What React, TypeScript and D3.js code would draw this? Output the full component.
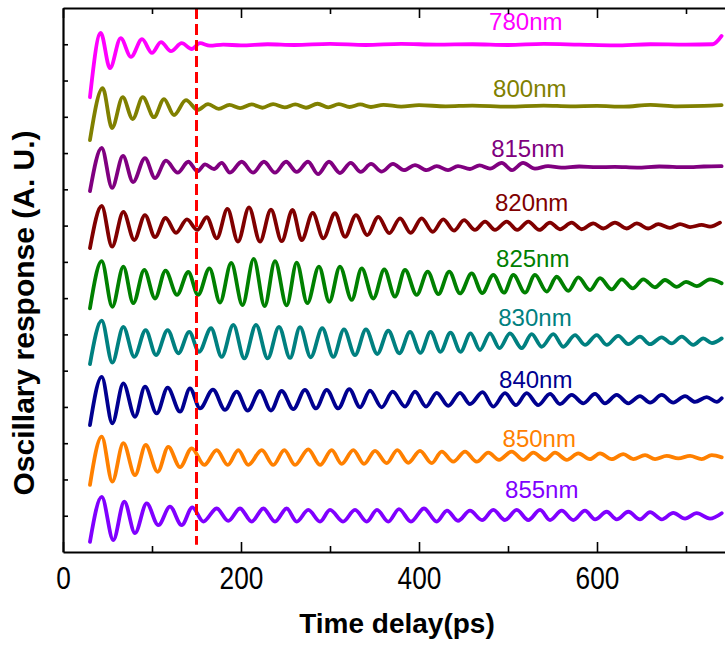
import React, { useRef, useEffect } from "react";
import * as d3 from "d3";

// turning points of each trace: [time delay (ps), response (A. U.)]
const s780 = [
  [30.3, 12.54], [42.4, 14.31], [52.8, 13.34], [64.8, 14.17], [76.4, 13.65], [88.8, 14.14],
  [100, 13.76], [110.1, 14.06], [121.3, 13.81], [133.4, 14.03], [144.6, 13.87], [153.9, 14.03],
  [165, 13.96], [180, 13.99], [200, 13.97], [230, 14.0], [260, 13.98], [300, 14.01], [340, 13.98],
  [380, 14.01], [420, 13.99], [460, 14.0], [500, 13.98], [540, 14.01], [580, 13.99], [620, 13.97],
  [660, 14.0], [700, 13.99], [730, 14.0], [740, 14.23],
];
const s800 = [
  [30.3, 11.36], [44.6, 12.79], [55.1, 11.69], [67.1, 12.54], [78.3, 11.94], [89.6, 12.54],
  [102.2, 11.99], [113.5, 12.49], [124.7, 12.05], [138.2, 12.46], [151.3, 12.19], [163, 12.35],
  [175, 12.22], [187, 12.33], [199, 12.24], [212, 12.34], [224, 12.25], [236, 12.35], [249, 12.26],
  [261, 12.34], [273, 12.25], [286, 12.36], [298, 12.26], [310, 12.35], [322, 12.27], [334, 12.34],
  [346, 12.27], [360, 12.33], [380, 12.28], [400, 12.32], [430, 12.29], [460, 12.31], [500, 12.28],
  [540, 12.31], [570, 12.29], [600, 12.3], [630, 12.28], [660, 12.33], [690, 12.29], [720, 12.3],
  [740, 12.32],
];
const s815 = [
  [30.3, 9.95], [43.5, 11.14], [55.1, 10.04], [67.4, 10.92], [78.7, 10.2], [92.1, 10.86],
  [103.4, 10.31], [115.7, 10.79], [128.9, 10.46], [140.8, 10.76], [151.1, 10.5], [159.6, 10.69],
  [169.7, 10.56], [178.3, 10.73], [187.6, 10.46], [200.8, 10.76], [213.5, 10.46], [225.8, 10.76],
  [238.2, 10.46], [250.6, 10.76], [262.6, 10.48], [275.3, 10.76], [286.5, 10.42], [298.9, 10.76],
  [311.2, 10.45], [323.3, 10.73], [334.5, 10.48], [346.1, 10.7], [358.1, 10.49], [370.8, 10.7],
  [383.1, 10.53], [395.5, 10.67], [408.6, 10.53], [419.9, 10.64], [432.6, 10.53], [443.8, 10.64],
  [457.3, 10.56], [468, 10.66], [479.8, 10.57], [492.9, 10.73], [504.5, 10.53], [516.9, 10.73],
  [530.3, 10.57], [545, 10.64], [560, 10.6], [580, 10.63], [600, 10.61], [620, 10.62], [645, 10.6],
  [670, 10.63], [700, 10.61], [720, 10.63], [740, 10.64],
];
const s820 = [
  [30.3, 8.38], [43.5, 9.54], [55.1, 8.42], [67.8, 9.38], [80.1, 8.6], [92.1, 9.29], [103.4, 8.68],
  [115.2, 9.21], [127, 8.8], [139.3, 9.17], [150.8, 8.88], [161.5, 9.23], [172.8, 8.65], [184.8, 9.46],
  [196.6, 8.56], [209, 9.5], [221.3, 8.56], [233.7, 9.44], [245.7, 8.57], [257.9, 9.43], [268.2, 8.6],
  [280.6, 9.35], [292.5, 8.65], [305.6, 9.34], [316.9, 8.69], [329.2, 9.29], [341.9, 8.74],
  [354.3, 9.24], [366.6, 8.79], [378.7, 9.2], [390.7, 8.8], [403, 9.2], [415.4, 8.83], [427.3, 9.17],
  [439.3, 8.86], [450.6, 9.15], [462.9, 8.88], [474.2, 9.11], [485.4, 8.88], [498.5, 9.11],
  [510.4, 8.88], [522.8, 9.11], [535.2, 8.88], [547.2, 9.08], [558.4, 8.9], [571.6, 9.08],
  [582.8, 8.9], [595.8, 9.06], [607.1, 8.92], [620.2, 9.08], [633.3, 8.92], [644.6, 9.06],
  [657.6, 8.92], [668.9, 9.04], [682, 8.94], [693.3, 9.04], [704.5, 8.96], [717.6, 9.02],
  [727, 8.97], [738.2, 9.08],
];
const s825 = [
  [30.3, 6.72], [43.5, 8.02], [55.4, 6.76], [67.8, 7.87], [79, 6.86], [91.3, 7.78], [103.4, 6.99],
  [115.2, 7.76], [128.1, 7.09], [140.8, 7.72], [151.7, 7.09], [164.6, 7.82], [176.4, 6.88], [189, 7.97],
  [201.7, 6.81], [214.3, 8.08], [226.6, 6.78], [238.2, 8.02], [251.3, 6.8], [262.6, 7.98], [274.5, 6.86],
  [287.6, 7.87], [299.2, 6.9], [311.2, 7.87], [324.4, 6.95], [335.6, 7.82], [348.7, 6.99], [361, 7.79],
  [373, 7.04], [384.3, 7.78], [397.4, 7.09], [409.8, 7.73], [421.7, 7.11], [434, 7.73], [446.1, 7.13],
  [459.2, 7.68], [471, 7.14], [483.5, 7.64], [495.5, 7.15], [506, 7.64], [519.1, 7.15], [530.3, 7.64],
  [543.5, 7.18], [554.7, 7.59], [567.8, 7.2], [579, 7.57], [592.1, 7.22], [603.4, 7.55], [616.5, 7.24],
  [627.8, 7.52], [640.1, 7.27], [652, 7.52], [665.2, 7.3], [676.4, 7.5], [689.6, 7.31], [700, 7.45],
  [712, 7.33], [727, 7.52], [740, 7.41],
];
const s830 = [
  [30.3, 5.18], [43.5, 6.38], [55.4, 5.22], [67.8, 6.21], [80.1, 5.38], [92.9, 6.12], [104.5, 5.43],
  [117.6, 6.12], [129.6, 5.48], [141.9, 6.07], [152.8, 5.52], [166.3, 6.17], [178.3, 5.38],
  [191.4, 6.26], [203.7, 5.34], [216.9, 6.26], [230, 5.34], [242.7, 6.21], [255.1, 5.35], [266.3, 6.2],
  [278.3, 5.37], [291.3, 6.17], [303.7, 5.38], [315.7, 6.14], [328.1, 5.43], [340.4, 6.14],
  [353.1, 5.46], [365.5, 6.1], [377.9, 5.48], [389.9, 6.07], [401.6, 5.49], [413, 6.07], [424.2, 5.52],
  [435.4, 6.05], [446.6, 5.52], [457.9, 6.03], [468.5, 5.57], [479.8, 6.03], [490.5, 5.62],
  [502.2, 6.03], [515.4, 5.62], [526.6, 6.01], [537.9, 5.66], [550.9, 6.01], [562.1, 5.66],
  [575.3, 5.98], [586.5, 5.71], [599.7, 5.98], [610.9, 5.71], [623.9, 5.96], [635.2, 5.73],
  [648.3, 5.94], [659.6, 5.73], [672.7, 5.92], [683.9, 5.75], [695.2, 5.94], [708.2, 5.71],
  [719.4, 5.89], [729.2, 5.76], [740.1, 5.89],
];
const s840 = [
  [30.3, 3.5], [43.5, 4.83], [55.4, 3.55], [67.8, 4.65], [80.9, 3.73], [92.1, 4.56], [105.3, 3.82],
  [117.6, 4.53], [131.5, 3.87], [142.7, 4.51], [153.9, 3.96], [168.5, 4.48], [182, 3.92], [195.2, 4.42],
  [207.5, 3.9], [221.3, 4.44], [233.7, 3.9], [245.7, 4.44], [258.8, 3.94], [271.9, 4.47], [284.3, 3.96],
  [296.3, 4.47], [309.3, 3.96], [321.7, 4.49], [333.7, 3.99], [344.9, 4.45], [358.1, 3.99],
  [370.4, 4.42], [384.3, 4.01], [395.5, 4.42], [407.9, 4.01], [419.9, 4.39], [432.9, 4.03],
  [446.1, 4.39], [457.3, 4.08], [471.4, 4.41], [483.5, 4.01], [496.6, 4.38], [509, 4.05], [521, 4.38],
  [534, 4.05], [547.2, 4.36], [558.4, 4.08], [571.6, 4.33], [584.6, 4.1], [597.8, 4.36], [609, 4.1],
  [622.1, 4.33], [635.2, 4.1], [648.3, 4.3], [659.6, 4.12], [672.7, 4.33], [685.7, 4.12],
  [698.9, 4.3], [710.1, 4.14], [723.3, 4.27], [734.5, 4.14], [740.1, 4.24],
];
const s850 = [
  [30.3, 1.85], [43.5, 3.18], [55.4, 1.94], [67.8, 3.0], [80.9, 2.12], [92.9, 2.95], [106.4, 2.21],
  [118.3, 2.9], [131.5, 2.34], [144.6, 2.86], [158.8, 2.4], [172.7, 2.81], [185.1, 2.4], [197, 2.81],
  [208.2, 2.4], [223.3, 2.81], [236.3, 2.4], [248.7, 2.81], [260.7, 2.4], [275.6, 2.83], [288.8, 2.4],
  [301.9, 2.81], [313.1, 2.43], [326.2, 2.81], [338.2, 2.43], [350.6, 2.79], [363.7, 2.45],
  [375.6, 2.81], [388, 2.46], [401.1, 2.79], [414.3, 2.45], [425.5, 2.77], [438.5, 2.49],
  [451.7, 2.77], [464.8, 2.49], [477.9, 2.74], [489.9, 2.54], [504.2, 2.77], [517.2, 2.54],
  [528.4, 2.74], [541.6, 2.54], [552.8, 2.74], [566, 2.54], [579, 2.72], [592.1, 2.56], [603.4, 2.72],
  [616.5, 2.56], [629.6, 2.7], [640.8, 2.56], [654, 2.67], [665.2, 2.56], [678.3, 2.65],
  [691.4, 2.58], [704.5, 2.65], [717.6, 2.56], [728.9, 2.67], [740.1, 2.61],
];
const s855 = [
  [30.3, 0.28], [43.5, 1.52], [56.5, 0.33], [68.9, 1.39], [80.9, 0.52], [94, 1.34], [107.1, 0.74],
  [120.2, 1.25], [133.4, 0.74], [145.3, 1.23], [157.6, 0.84], [172.7, 1.2], [185.7, 0.86],
  [198.9, 1.2], [212, 0.84], [225.1, 1.2], [238.2, 0.84], [251.3, 1.2], [262.6, 0.84], [275.6, 1.16],
  [288.8, 0.84], [300, 1.16], [314.6, 0.84], [328.1, 1.16], [341.3, 0.84], [352.8, 1.16],
  [365.5, 0.84], [377.5, 1.18], [391, 0.84], [405.6, 1.2], [419.9, 0.84], [431.5, 1.14],
  [443.8, 0.86], [457.3, 1.14], [470.8, 0.88], [483.5, 1.16], [496.6, 0.88], [509.8, 1.16],
  [522.8, 0.88], [536, 1.16], [547.2, 0.88], [560.3, 1.14], [573.4, 0.88], [586.5, 1.14],
  [597.8, 0.9], [610.9, 1.11], [622.1, 0.9], [635.2, 1.11], [648.3, 0.9], [659.6, 1.1],
  [672.7, 0.9], [685.7, 1.08], [698.9, 0.92], [712, 1.07], [727, 0.92], [740.1, 1.07],
];

const wavelengths = ["780nm", "800nm", "815nm", "820nm", "825nm", "830nm", "840nm", "850nm", "855nm"];
const traces = [s780, s800, s815, s820, s825, s830, s840, s850, s855];
const colors = ["#ff00ff", "#808000", "#800080", "#800000", "#008000", "#008080", "#000090", "#ff8000", "#8000ff"];
// where each wavelength name is written: [time delay, response]
const labelAt = [
  [520, 14.39], [524.5, 12.55], [522.3, 10.88], [526.6, 9.41], [527.8, 7.85],
  [530.3, 6.23], [531.2, 4.51], [535.1, 2.89], [537.9, 1.48],
];
const majorTicks = [0, 200, 400, 600];
const minorTicks = [100, 300, 500, 700];
const yTicks = d3.range(1, 15);
const markerTime = 150;

const App = () => {
  const chartRef = useRef(null);

  useEffect(() => {
    d3.select(chartRef.current).selectAll("*").remove();

    const width = 725,
      height = 646;

    const svg = d3
      .select(chartRef.current)
      .append("svg")
      .attr("width", width)
      .attr("height", height)
      .style("position", "absolute")
      .style("left", "0px")
      .style("top", "0px")
      .style("background", "#fff");

    const x = d3.scaleLinear().domain([0, 750]).range([63, 730.5]);
    const y = d3.scaleLinear().domain([0, 15]).range([552, 8]);

    const line = d3
      .line()
      .x((d) => x(d[0]))
      .y((d) => y(d[1]))
      .curve(d3.curveMonotoneX);

    traces.forEach((pts, i) => {
      svg
        .append("path")
        .attr("d", line(pts))
        .attr("fill", "none")
        .attr("stroke", colors[i])
        .attr("stroke-width", 3.8)
        .attr("stroke-linejoin", "round")
        .attr("stroke-linecap", "round");

      svg
        .append("text")
        .attr("x", x(labelAt[i][0]))
        .attr("y", y(labelAt[i][1]))
        .attr("text-anchor", "middle")
        .attr("font-family", "'Liberation Sans', Arial, sans-serif")
        .attr("font-size", 24)
        .attr("fill", colors[i])
        .text(wavelengths[i]);
    });

    svg
      .append("line")
      .attr("x1", x(markerTime))
      .attr("x2", x(markerTime))
      .attr("y1", y(15))
      .attr("y2", y(0.2))
      .attr("stroke", "#ff0000")
      .attr("stroke-width", 3)
      .attr("stroke-dasharray", "11,5");

    // bottom axis
    const bottom = svg.append("g").attr("transform", `translate(0,${y(0)})`);
    bottom.call(
      d3.axisBottom(x).tickValues(majorTicks).tickSize(-10).tickSizeOuter(0).tickPadding(14).tickFormat(d3.format("d"))
    );
    bottom
      .append("g")
      .call(d3.axisBottom(x).tickValues(minorTicks).tickSize(-6).tickFormat(() => ""))
      .select(".domain")
      .remove();
    bottom.attr("font-family", "'Liberation Sans', Arial, sans-serif").attr("font-size", 32);
    // the tick numbers are set in a condensed face
    bottom.selectAll("text").attr("fill", "#000").attr("transform", "scale(0.82,1)");

    // top axis
    const top = svg.append("g").attr("transform", `translate(0,${y(15)})`);
    top.call(d3.axisTop(x).tickValues(majorTicks).tickSize(-10).tickSizeOuter(0).tickFormat(() => ""));
    top
      .append("g")
      .call(d3.axisTop(x).tickValues(minorTicks).tickSize(-6).tickFormat(() => ""))
      .select(".domain")
      .remove();

    // left axis
    const left = svg.append("g").attr("transform", `translate(${x(0)},0)`);
    left.call(d3.axisLeft(y).tickValues(yTicks).tickSize(-5).tickSizeOuter(0).tickFormat(() => ""));

    svg.selectAll(".domain").attr("stroke", "#000").attr("stroke-width", 2.2);
    svg.selectAll(".tick line").attr("stroke", "#000").attr("stroke-width", 1.6);

    svg
      .append("text")
      .attr("x", 397)
      .attr("y", 633)
      .attr("text-anchor", "middle")
      .attr("font-family", "'Liberation Sans', Arial, sans-serif")
      .attr("font-weight", "bold")
      .attr("font-size", 28)
      .text("Time delay(ps)");

    svg
      .append("text")
      .attr("transform", "translate(34,313) rotate(-90)")
      .attr("text-anchor", "middle")
      .attr("font-family", "'Liberation Sans', Arial, sans-serif")
      .attr("font-weight", "bold")
      .attr("font-size", 30)
      .text("Oscillary response (A. U.)");
  }, []);

  return <div ref={chartRef}></div>;
};

export default App;
